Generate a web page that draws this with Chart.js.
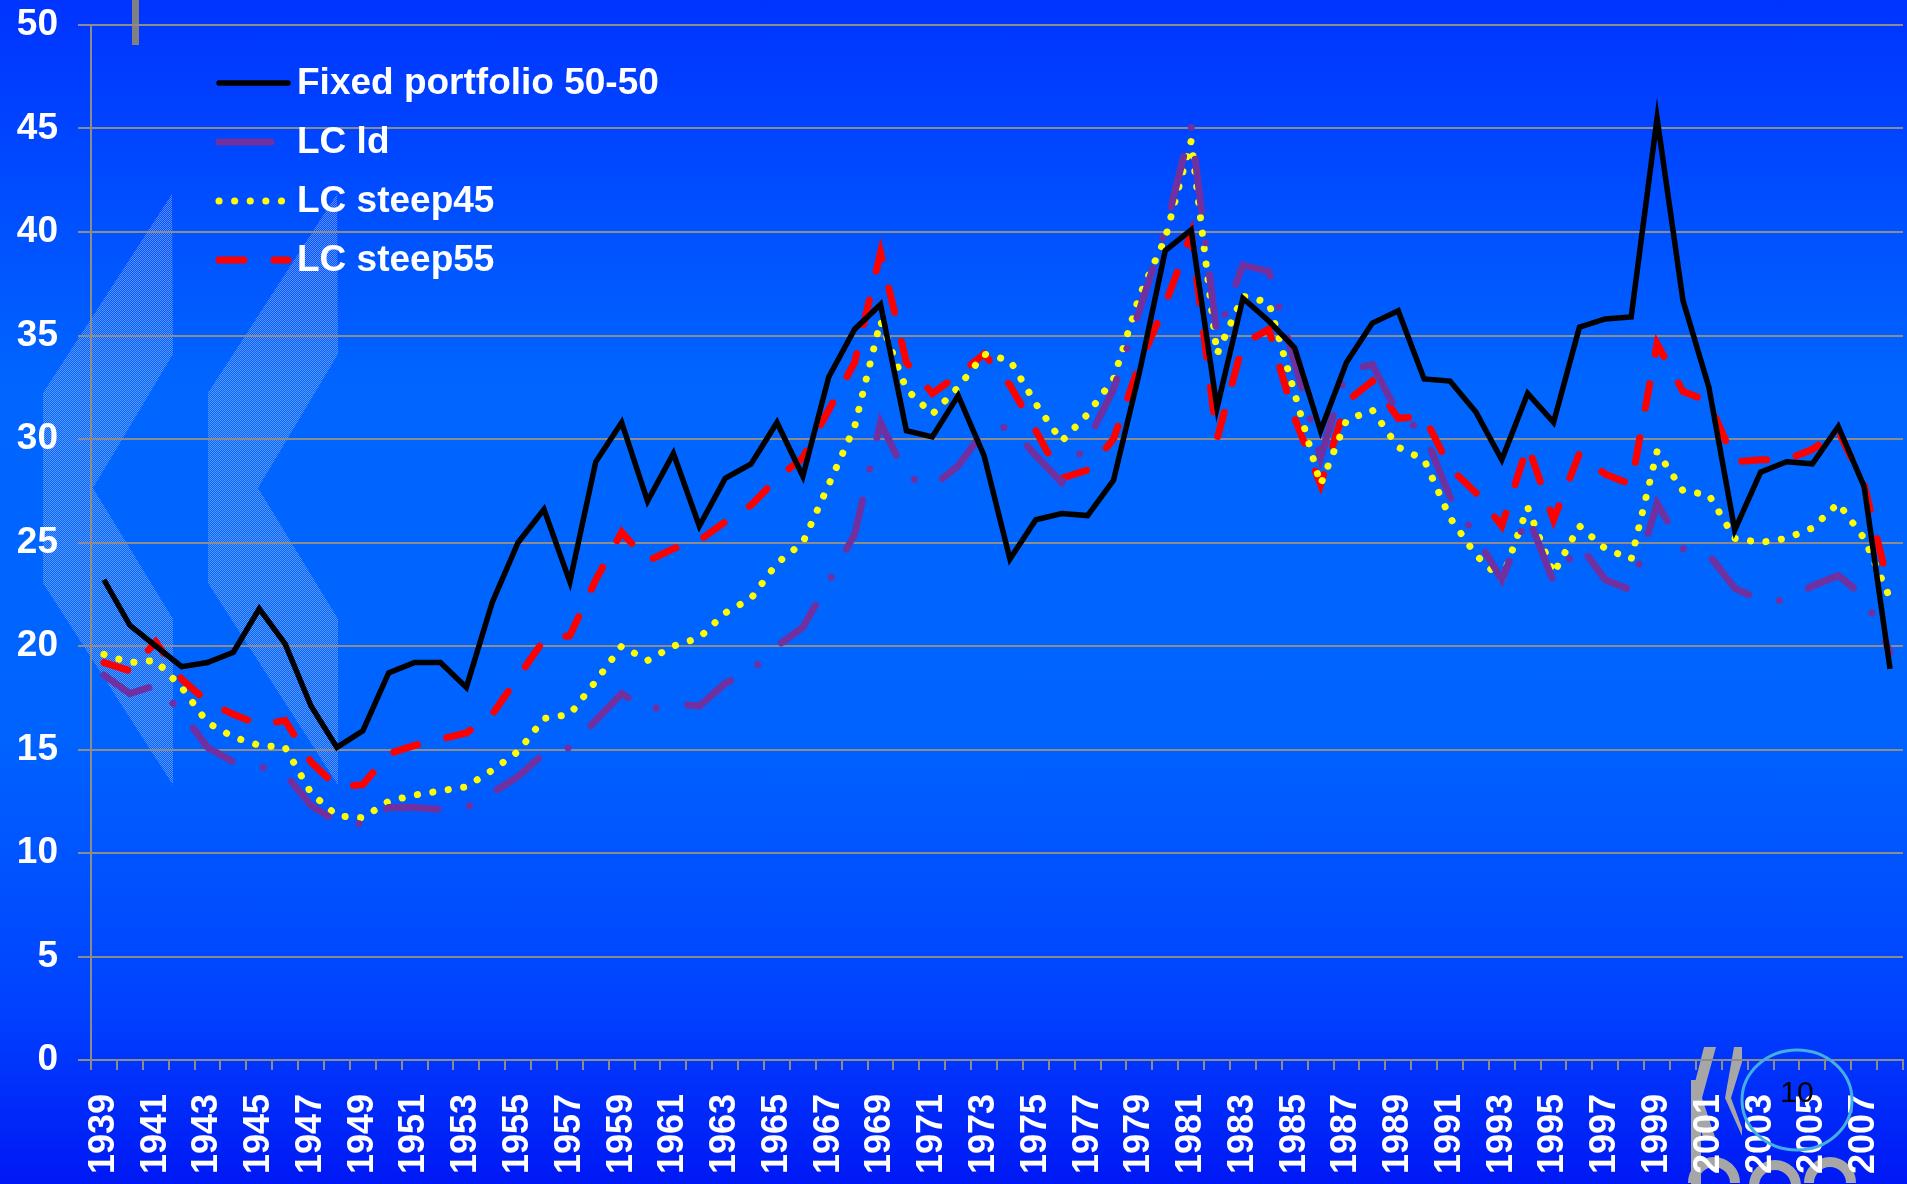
<!DOCTYPE html>
<html>
<head>
<meta charset="utf-8">
<script src="https://cdn.jsdelivr.net/npm/chart.js@4.4.0/dist/chart.umd.min.js"></script>
<style>
  html, body { margin: 0; padding: 0; }
  body {
    width: 1907px; height: 1184px; overflow: hidden;
    background: linear-gradient(to bottom, #0033ff 0%, #0066ff 33%, #0063ff 62%, #0042ff 85%, #0018f5 100%);
  }
  #wrap { position: relative; width: 1907px; height: 1184px; }
</style>
</head>
<body>
<div id="wrap"><canvas id="chart" width="1907" height="1184"></canvas></div>
<script>
// categories (years)
const years = [
  '1939','1940','1941','1942','1943','1944','1945','1946','1947','1948',
  '1949','1950','1951','1952','1953','1954','1955','1956','1957','1958',
  '1959','1960','1961','1962','1963','1964','1965','1966','1967','1968',
  '1969','1970','1971','1972','1973','1974','1975','1976','1977','1978',
  '1979','1980','1981','1982','1983','1984','1985','1986','1987','1988',
  '1989','1990','1991','1992','1993','1994','1995','1996','1997','1998',
  '1999','2000','2001','2002','2003','2004','2005','2006','2007','2008'
];

// Fixed portfolio 50-50
const fixed5050 = [
  23.2, 21.0, 20.0, 19.0, 19.2, 19.7, 21.8, 20.1, 17.1, 15.1,
  15.9, 18.7, 19.2, 19.2, 18.0, 22.1, 25.0, 26.6, 23.1, 28.9,
  30.8, 27.0, 29.3, 25.8, 28.1, 28.8, 30.8, 28.2, 33.0, 35.3,
  36.5, 30.4, 30.1, 32.1, 29.2, 24.2, 26.1, 26.4, 26.3, 28.0,
  33.2, 39.1, 40.1, 31.5, 36.8, 35.7, 34.4, 30.4, 33.7, 35.6,
  36.2, 32.9, 32.8, 31.3, 29.0, 32.2, 30.8, 35.4, 35.8, 35.9,
  45.5, 36.7, 32.5, 25.6, 28.4, 28.9, 28.8, 30.6, 27.7, 18.9
];

// LC ld
const lcLd = [
  18.6, 17.7, 18.1, 16.8, 15.1, 14.4, 14.2, 13.8, 12.3, 11.5,
  11.4, 12.2, 12.2, 12.1, 12.2, 12.9, 13.7, 14.8, 15.1, 16.4,
  17.7, 16.9, 17.2, 17.1, 18.2, 18.8, 20.0, 20.9, 23.1, 25.4,
  30.8, 28.2, 27.7, 28.7, 30.4, 30.6, 29.2, 27.9, 29.9, 32.4,
  36.2, 40.1, 45.1, 35.0, 38.4, 38.1, 33.7, 29.1, 33.3, 33.6,
  31.2, 30.3, 27.2, 25.3, 23.2, 26.3, 23.1, 24.9, 23.2, 22.7,
  26.9, 24.7, 24.4, 22.8, 22.2, 22.2, 22.9, 23.4, 22.4, 19.7
];

// LC steep45
const lcSteep45 = [
  19.6, 19.2, 19.3, 18.0, 16.3, 15.6, 15.2, 15.1, 12.9, 11.8,
  11.7, 12.5, 12.8, 13.0, 13.2, 14.0, 14.9, 16.5, 16.7, 18.3,
  20.0, 19.3, 20.0, 20.4, 21.6, 22.3, 24.0, 25.0, 27.8, 30.6,
  35.7, 32.4, 31.2, 32.5, 34.1, 33.8, 31.7, 29.9, 31.2, 32.9,
  36.9, 39.7, 44.4, 34.1, 36.9, 36.6, 32.2, 27.8, 30.9, 31.4,
  29.6, 29.0, 26.2, 24.4, 23.2, 26.7, 23.5, 25.8, 24.7, 24.2,
  29.4, 27.5, 27.3, 25.2, 25.0, 25.2, 25.7, 26.9, 25.2, 22.3
];

// LC steep55
const lcSteep55 = [
  19.2, 18.8, 20.2, 18.4, 17.3, 16.7, 16.2, 16.4, 14.4, 13.2,
  13.3, 14.8, 15.2, 15.5, 15.8, 16.7, 18.5, 20.3, 20.5, 23.2,
  25.5, 24.1, 24.7, 25.1, 26.0, 26.8, 28.1, 29.1, 31.4, 33.7,
  39.0, 33.7, 32.2, 33.1, 34.1, 32.6, 30.4, 28.1, 28.5, 30.0,
  33.6, 36.5, 39.9, 30.0, 34.6, 35.3, 31.0, 27.8, 31.8, 32.8,
  31.0, 31.1, 28.6, 27.4, 25.8, 29.7, 26.1, 29.3, 28.3, 27.8,
  34.6, 32.3, 31.8, 28.9, 29.0, 29.0, 29.5, 30.4, 27.8, 22.6
];

const FONT = '"Liberation Sans", Arial, sans-serif';
const GRID = '#8c8c8c';

// dotted texture for the slide's chevron decoration
function makeTexture() {
  const pc = document.createElement('canvas');
  pc.width = 2; pc.height = 2;
  const p = pc.getContext('2d');
  p.fillStyle = 'rgba(170, 195, 255, 0.55)';
  p.fillRect(0, 0, 1, 1);
  p.fillRect(1, 1, 1, 1);
  return pc;
}

// slide decorations behind the chart: chevrons, top bar, logo
const backdropPlugin = {
  id: 'backdrop',
  beforeDraw(chart) {
    const ctx = chart.ctx;
    ctx.save();
    const pattern = ctx.createPattern(makeTexture(), 'repeat');
    const chevron = [[172, 194], [173, 354], [93, 488], [173, 619], [173, 785], [43, 583], [43, 393]];
    [0, 165].forEach(dx => {
      ctx.beginPath();
      chevron.forEach(([x, y], k) => k ? ctx.lineTo(x + dx, y) : ctx.moveTo(x + dx, y));
      ctx.closePath();
      ctx.fillStyle = pattern;
      ctx.fill();
    });

    ctx.fillStyle = '#808080';
    ctx.fillRect(132, 0, 7, 45);

    // grey logo shapes, bottom right
    ctx.fillStyle = '#a6a6a6';
    ctx.beginPath();
    ctx.moveTo(1704, 1047); ctx.lineTo(1716, 1047); ctx.lineTo(1702, 1098);
    ctx.lineTo(1716, 1140); ctx.lineTo(1704, 1140); ctx.lineTo(1691, 1098);
    ctx.closePath(); ctx.fill();
    ctx.fillRect(1691, 1080, 10, 104);
    ctx.beginPath();
    ctx.moveTo(1734, 1047); ctx.lineTo(1742, 1047); ctx.lineTo(1742, 1062);
    ctx.lineTo(1731, 1098); ctx.lineTo(1742, 1128); ctx.lineTo(1742, 1136);
    ctx.lineTo(1725, 1098);
    ctx.closePath(); ctx.fill();
    ctx.strokeStyle = '#a6a6a6';
    ctx.lineWidth = 10;
    [[1714, 1183, 21], [1775, 1186, 21], [1830, 1183, 21]].forEach(([cx, cy, r]) => {
      ctx.beginPath(); ctx.arc(cx, cy, r, Math.PI, 2 * Math.PI); ctx.stroke();
    });
    ctx.restore();
  },
  afterDraw(chart) {
    const ctx = chart.ctx;
    ctx.save();
    ctx.strokeStyle = '#45aee0';
    ctx.lineWidth = 3;
    ctx.beginPath();
    ctx.ellipse(1797, 1100, 55, 50, 0, 0, 2 * Math.PI);
    ctx.stroke();
    ctx.fillStyle = '#000';
    ctx.font = '30px ' + FONT;
    ctx.textAlign = 'center';
    ctx.textBaseline = 'middle';
    ctx.fillText('10', 1797, 1094);
    ctx.restore();
  }
};

// legend drawn inside the plot, top-left, using each dataset's own line style
const insideLegend = {
  id: 'insideLegend',
  afterDatasetsDraw(chart) {
    const ctx = chart.ctx;
    chart.data.datasets.forEach((ds, i) => {
      const y = 83 + i * 59;
      ctx.save();
      ctx.strokeStyle = ds.borderColor;
      ctx.lineWidth = ds.borderWidth;
      ctx.lineCap = 'round';
      ctx.setLineDash(ds.borderDash || []);
      ctx.beginPath();
      ctx.moveTo(219, y);
      ctx.lineTo(288, y);
      ctx.stroke();
      ctx.setLineDash([]);
      ctx.fillStyle = '#ffffff';
      ctx.font = 'bold 37px ' + FONT;
      ctx.textBaseline = 'middle';
      ctx.fillText(ds.label, 297, y + 1);
      ctx.restore();
    });
  }
};

new Chart(document.getElementById('chart'), {
  type: 'line',
  data: {
    labels: years,
    datasets: [
      {
        label: 'Fixed portfolio 50-50',
        data: fixed5050,
        borderColor: '#000000',
        borderWidth: 5.5,
        pointRadius: 0,
        tension: 0
      },
      {
        label: 'LC ld',
        data: lcLd,
        borderColor: '#7030a0',
        borderWidth: 7,
        borderDash: [52, 32, 0.1, 32],
        borderCapStyle: 'round',
        pointRadius: 0,
        tension: 0
      },
      {
        label: 'LC steep45',
        data: lcSteep45,
        borderColor: '#ffff00',
        borderWidth: 7,
        borderDash: [0.1, 15.5],
        borderCapStyle: 'round',
        pointRadius: 0,
        tension: 0
      },
      {
        label: 'LC steep55',
        data: lcSteep55,
        borderColor: '#ff0000',
        borderWidth: 7,
        borderDash: [25, 30],
        borderCapStyle: 'round',
        pointRadius: 0,
        tension: 0
      }
    ]
  },
  options: {
    responsive: false,
    animation: false,
    devicePixelRatio: 1,
    layout: { padding: { top: 25, right: 4, left: 0, bottom: 0 } },
    plugins: {
      legend: { display: false },
      tooltip: { enabled: false }
    },
    scales: {
      x: {
        offset: true,
        grid: {
          display: true,
          drawOnChartArea: false,
          drawTicks: true,
          tickLength: 10,
          offset: true,
          color: GRID,
          lineWidth: 2
        },
        border: { display: true, color: GRID, width: 2 },
        ticks: {
          autoSkip: false,
          minRotation: 90,
          maxRotation: 90,
          padding: 24,
          color: '#ffffff',
          font: { family: FONT, size: 36, weight: 'bold' },
          callback: (value, index) => (index % 2 === 0 ? years[index] : '')
        },
        afterFit(scale) {
          scale.height = 124;
          scale.paddingLeft = 0;
          scale.paddingRight = 0;
        }
      },
      y: {
        min: 0,
        max: 50,
        grid: {
          color: GRID,
          lineWidth: 2,
          drawTicks: true,
          tickLength: 13
        },
        border: { display: true, color: GRID, width: 2 },
        ticks: {
          stepSize: 5,
          padding: 20,
          color: '#ffffff',
          font: { family: FONT, size: 37, weight: 'bold' }
        },
        afterFit(scale) {
          scale.width = 91;
          scale.paddingTop = 0;
          scale.paddingBottom = 0;
        }
      }
    }
  },
  plugins: [backdropPlugin, insideLegend]
});
</script>
</body>
</html>
